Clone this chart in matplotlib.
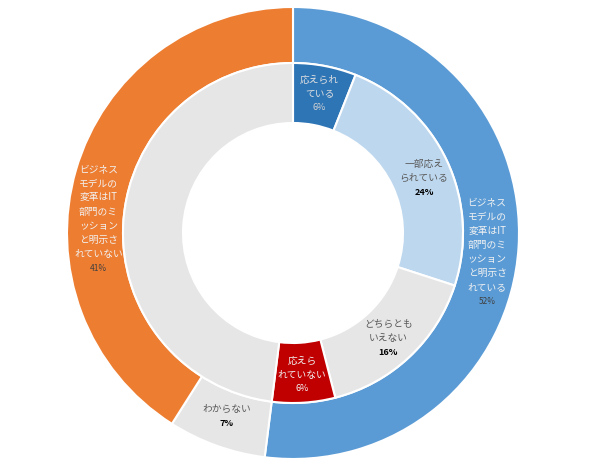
import numpy as np
import matplotlib.pyplot as plt

plt.rcParams['font.family'] = ['Noto Sans CJK JP', 'DejaVu Sans']

# outer ring: IT dept mission stated or not
outer_labels = ['ビジネス\nモデルの\n変革はIT\n部門のミ\nッション\nと明示さ\nれている',
                'わからない',
                'ビジネス\nモデルの\n変革はIT\n部門のミ\nッション\nと明示さ\nれていない']
outer_values = [52, 7, 41]
outer_colors = ['#5B9BD5', '#E7E6E6', '#ED7D31']

# inner ring: breakdown of the "stated" group, remainder left blank
inner_labels = ['応えられ\nている', '一部応え\nられている', 'どちらとも\nいえない', '応えら\nれていない', '']
inner_values = [6, 24, 16, 6, 48]
inner_colors = ['#2E75B6', '#BDD7EE', '#E7E6E6', '#C00000', '#E7E6E6']

W, H = 590, 467
cx, cy = 293, H - 233
R_out, R_mid, R_hole = 226, 170, 110

fig = plt.figure(figsize=(W / 100, H / 100), dpi=100)
ax = fig.add_axes([0, 0, 1, 1])

wp = dict(edgecolor='white', linewidth=1.5)
w_out, _ = ax.pie(outer_values, colors=outer_colors, radius=R_out, center=(cx, cy),
                  startangle=90, counterclock=False,
                  wedgeprops=dict(width=R_out - R_mid, **wp))
w_in, _ = ax.pie(inner_values, colors=inner_colors, radius=R_mid, center=(cx, cy),
                 startangle=90, counterclock=False,
                 wedgeprops=dict(width=R_mid - R_hole, **wp))


def mid_pos(w, r, dtheta=0):
    th = np.deg2rad((w.theta1 + w.theta2) / 2 + dtheta)
    return cx + r * np.cos(th), cy + r * np.sin(th)


def put(x, y, txt, pct, tcol, pcol, pbold, pct_size=6.5):
    n = txt.count('\n') + 1
    lh = 14.2
    top = y + n * lh / 2
    for i, line in enumerate(txt.split('\n')):
        ax.text(x, top - i * lh, line, ha='center', va='center', fontsize=7, color=tcol)
    ax.text(x, top - n * lh, pct, ha='center', va='center', fontsize=pct_size,
            color=pcol, fontweight='bold' if pbold else 'normal')


# outer labels
outer_tc = ['#F2F2F2', '#595959', '#F2F2F2']
outer_pc = ['#404040', 'black', '#404040']
outer_bold = [False, True, False]
outer_shift = [-2, 0, 12]
for w, lab, v, tc, pc, b, s in zip(w_out, outer_labels, outer_values, outer_tc, outer_pc, outer_bold, outer_shift):
    x, y = mid_pos(w, 195, s)
    put(x, y, lab, f'{v}%', tc, pc, b, 6 if not b else 6.5)

# inner labels
inner_tc = ['#E0E0E0', '#595959', '#595959', '#F2F2F2']
inner_pc = ['#D0D0D0', 'black', 'black', '#F2F2F2']
inner_bold = [False, True, True, False]
inner_shift = [0, -2.5, -1, 0]
for w, lab, v, tc, pc, b, s in zip(w_in[:4], inner_labels, inner_values, inner_tc, inner_pc, inner_bold, inner_shift):
    x, y = mid_pos(w, 142, s)
    put(x, y, lab, f'{v}%', tc, pc, b)

ax.set_xlim(0, W)
ax.set_ylim(0, H)
ax.set_aspect('equal')
ax.axis('off')

fig.savefig('out.png', dpi=100)
